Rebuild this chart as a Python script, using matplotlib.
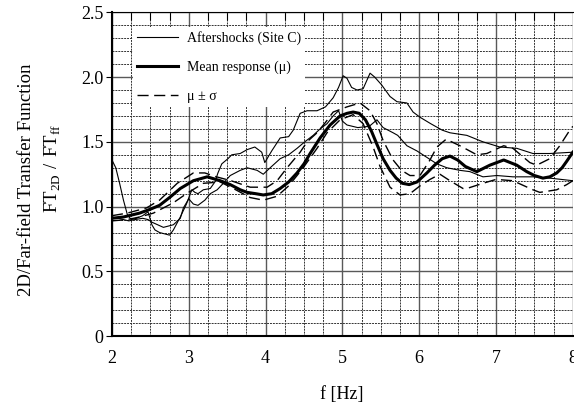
import numpy as np
import matplotlib
matplotlib.use('Agg')
import matplotlib.pyplot as plt
from matplotlib.ticker import MultipleLocator

plt.rcParams['font.family'] = ['Liberation Serif', 'DejaVu Serif']
plt.rcParams['mathtext.fontset'] = 'custom'
plt.rcParams['mathtext.rm'] = 'Liberation Serif'

# aftershock record 1 (upper branch)
f_a1 = [2.00, 2.05, 2.10, 2.15, 2.20, 2.25, 2.32, 2.40, 2.47, 2.52, 2.56, 2.62, 2.75, 2.80,
        2.89, 2.97, 3.04, 3.08, 3.12, 3.19, 3.28, 3.34, 3.38, 3.43, 3.51, 3.56, 3.67, 3.76,
        3.86, 3.95, 3.99, 4.08, 4.19, 4.30, 4.36, 4.45, 4.54, 4.67, 4.78, 4.88, 4.95, 5.01,
        5.06, 5.12, 5.19, 5.27, 5.36, 5.42, 5.51, 5.62, 5.71, 5.84, 5.92, 6.01, 6.15, 6.30,
        6.40, 6.62, 6.83, 7.05, 7.27, 7.48, 7.70, 8.00]
a1 = [1.36, 1.30, 1.18, 1.05, 0.94, 0.90, 0.91, 0.93, 0.96, 0.86, 0.82, 0.80, 0.78, 0.82,
      0.92, 1.02, 1.13, 1.11, 1.10, 1.13, 1.14, 1.19, 1.26, 1.33, 1.37, 1.40, 1.41, 1.44,
      1.46, 1.42, 1.34, 1.43, 1.53, 1.54, 1.59, 1.72, 1.74, 1.74, 1.77, 1.84, 1.92, 2.01,
      1.99, 1.92, 1.90, 1.91, 2.03, 2.00, 1.94, 1.85, 1.81, 1.80, 1.73, 1.69, 1.64, 1.59,
      1.57, 1.55, 1.50, 1.46, 1.45, 1.41, 1.41, 1.42]

# aftershock record 2 (lower branch)
f_a2 = [2.00, 2.08, 2.15, 2.22, 2.30, 2.40, 2.47, 2.52, 2.67, 2.80, 2.89, 2.93, 3.00, 3.06,
        3.12, 3.21, 3.28, 3.37, 3.45, 3.54, 3.67, 3.76, 3.89, 3.97, 4.06, 4.19, 4.30, 4.41,
        4.51, 4.62, 4.71, 4.80, 4.88, 4.95, 5.00, 5.06, 5.20, 5.35, 5.45, 5.53, 5.66, 5.72,
        5.84, 5.97, 6.10, 6.23, 6.36, 6.53, 6.66, 6.83, 7.01, 7.22, 7.48, 7.70, 8.00]
a2 = [0.92, 0.91, 0.90, 0.89, 0.90, 0.91, 0.90, 0.88, 0.84, 0.86, 0.91, 0.99, 1.06, 1.02,
      1.01, 1.05, 1.10, 1.13, 1.18, 1.24, 1.28, 1.30, 1.28, 1.25, 1.30, 1.37, 1.40, 1.45,
      1.50, 1.55, 1.60, 1.64, 1.70, 1.74, 1.66, 1.63, 1.61, 1.62, 1.67, 1.61, 1.57, 1.55,
      1.47, 1.43, 1.38, 1.33, 1.30, 1.28, 1.27, 1.23, 1.24, 1.23, 1.23, 1.22, 1.20]

# mean response
f_mu = [2.00, 2.15, 2.36, 2.50, 2.62, 2.75, 2.89, 3.06, 3.24, 3.41, 3.54, 3.67, 3.76, 3.87,
        3.97, 4.08, 4.19, 4.30, 4.41, 4.50, 4.58, 4.71, 4.84, 4.97, 5.06, 5.14, 5.22, 5.30,
        5.38, 5.45, 5.53, 5.62, 5.70, 5.78, 5.87, 5.97, 6.10, 6.20, 6.30, 6.40, 6.50, 6.60,
        6.75, 6.92, 7.10, 7.27, 7.40, 7.50, 7.61, 7.70, 7.79, 7.86, 7.92, 8.00]
mu = [0.91, 0.92, 0.95, 0.98, 1.01, 1.07, 1.14, 1.20, 1.23, 1.20, 1.17, 1.13, 1.11, 1.10,
      1.09, 1.10, 1.14, 1.19, 1.26, 1.33, 1.41, 1.53, 1.63, 1.70, 1.72, 1.73, 1.72, 1.67,
      1.58, 1.48, 1.37, 1.28, 1.22, 1.18, 1.17, 1.19, 1.26, 1.32, 1.37, 1.39, 1.36, 1.31,
      1.27, 1.32, 1.36, 1.32, 1.27, 1.24, 1.22, 1.23, 1.26, 1.30, 1.35, 1.42]

# mean + sigma
f_up = [2.00, 2.20, 2.45, 2.62, 2.85, 3.06, 3.21, 3.36, 3.55, 3.80, 4.02, 4.15, 4.28, 4.45,
        4.54, 4.67, 4.78, 4.88, 5.06, 5.23, 5.36, 5.45, 5.53, 5.66, 5.77, 5.88, 6.01, 6.14,
        6.23, 6.35, 6.53, 6.75, 6.88, 7.10, 7.22, 7.44, 7.53, 7.70, 7.83, 7.96, 8.00]
up = [0.93, 0.95, 0.99, 1.05, 1.18, 1.26, 1.26, 1.23, 1.20, 1.15, 1.15, 1.20, 1.30, 1.42,
      1.50, 1.57, 1.65, 1.73, 1.77, 1.80, 1.74, 1.64, 1.51, 1.36, 1.28, 1.24, 1.24, 1.36,
      1.46, 1.52, 1.47, 1.40, 1.41, 1.47, 1.45, 1.34, 1.32, 1.37, 1.47, 1.59, 1.62]

# mean - sigma
f_lo = [2.00, 2.20, 2.36, 2.54, 2.80, 2.97, 3.19, 3.41, 3.58, 3.80, 3.97, 4.15, 4.30, 4.41,
        4.49, 4.67, 4.80, 4.97, 5.14, 5.27, 5.40, 5.49, 5.62, 5.75, 5.88, 6.01, 6.14, 6.27,
        6.40, 6.57, 6.62, 6.83, 7.00, 7.22, 7.48, 7.57, 7.79, 7.92, 8.00]
lo = [0.89, 0.90, 0.92, 0.95, 1.03, 1.10, 1.18, 1.19, 1.14, 1.07, 1.05, 1.08, 1.16, 1.24,
      1.30, 1.45, 1.57, 1.67, 1.71, 1.64, 1.46, 1.31, 1.15, 1.09, 1.10, 1.16, 1.21, 1.25,
      1.20, 1.14, 1.14, 1.18, 1.21, 1.20, 1.13, 1.11, 1.13, 1.17, 1.20]

fig = plt.figure(figsize=(5.74, 4.09), dpi=100)
ax = fig.add_axes([0.195, 0.178, 0.803, 0.792])

ax.plot(f_a1, a1, color='black', lw=0.8, label='Aftershocks (Site C)')
ax.plot(f_a2, a2, color='black', lw=0.8)
ax.plot(f_mu, mu, color='black', lw=2.2, label='Mean response (μ)')
ax.plot(f_up, up, color='black', lw=1.0, dashes=(8, 4), label='μ ± σ')
ax.plot(f_lo, lo, color='black', lw=1.0, dashes=(8, 4))

ax.set_xlim(2, 8)
ax.set_ylim(0, 2.5)
ax.xaxis.set_major_locator(MultipleLocator(1))
ax.xaxis.set_minor_locator(MultipleLocator(0.25))
ax.yaxis.set_major_locator(MultipleLocator(0.5))
ax.yaxis.set_minor_locator(MultipleLocator(0.1))
ax.set_yticks([0, 0.5, 1.0, 1.5, 2.0, 2.5])
ax.set_yticklabels(['0', '0.5', '1.0', '1.5', '2.0', '2.5'])

ax.grid(which='major', color='0.35', lw=1.0, ls='-')
ax.grid(which='minor', color='0.2', lw=0.7, ls=(0, (2, 1)))
ax.set_axisbelow(True)

ax.tick_params(which='major', axis='y', direction='out', length=4, labelsize=13, pad=2)
ax.tick_params(which='minor', axis='y', length=0)
ax.tick_params(which='both', axis='x', direction='in', top=True, bottom=False,
               labelsize=13, pad=10)
ax.tick_params(which='major', axis='x', length=0)
ax.tick_params(which='minor', axis='x', length=6, width=0.8)
for s in ['left', 'bottom']:
    ax.spines[s].set_linewidth(1.5)
ax.spines['right'].set_visible(False)

leg = ax.legend(loc='upper left', bbox_to_anchor=(0.046, 0.955), borderaxespad=0,
                fontsize=10, handlelength=2.9, labelspacing=1.12, frameon=True,
                fancybox=False, borderpad=0.3, handletextpad=0.65)
leg.get_frame().set_facecolor('white')
leg.get_frame().set_edgecolor('none')
leg.get_frame().set_alpha(1)

fig.text(0.047, 0.56, '2D/Far-field Transfer Function', rotation=90,
         ha='center', va='center', fontsize=13.5)
fig.text(0.092, 0.589, r'$\mathrm{FT}_{\mathrm{2D}}\ /\ \mathrm{FT}_{\mathrm{ff}}$', rotation=90,
         ha='center', va='center', fontsize=13.5)
fig.text(0.596, 0.035, 'f [Hz]', ha='center', va='center', fontsize=13)

fig.savefig('out.png', dpi=100)
